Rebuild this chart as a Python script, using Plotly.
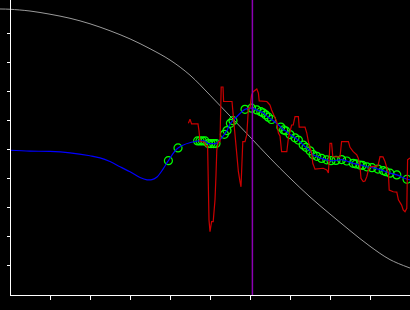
import plotly.graph_objects as go

# ---- data ----
gray_x = [-0.25, 0, 0.5, 1.0, 1.5, 2.0, 2.5, 3.0, 3.5, 4.0, 4.5, 5.0, 5.5, 6.0, 6.5, 7.0, 7.5, 8.0, 8.5, 9.0, 9.5, 10.0]
gray_y = [9.86, 9.85, 9.79, 9.68, 9.54, 9.35, 9.11, 8.83, 8.49, 8.10, 7.58, 6.89, 6.17, 5.45, 4.72, 4.03, 3.38, 2.79, 2.22, 1.68, 1.22, 0.93]

blue_left_x = [0, 0.5, 1.0, 1.5, 2.0, 2.25, 2.5, 2.75, 3.0, 3.25, 3.425, 3.55, 3.675, 3.825]
blue_left_y = [4.99, 4.96, 4.95, 4.90, 4.80, 4.73, 4.60, 4.42, 4.25, 4.05, 3.97, 3.98, 4.07, 4.34]

green_x = [3.96, 4.20, 4.69, 4.75, 4.81, 4.875, 4.96, 5.025, 5.09, 5.15,
           5.36, 5.425, 5.51, 5.575, 5.875, 6.04, 6.17, 6.27, 6.325, 6.39,
           6.46, 6.54, 6.77, 6.84, 6.89, 7.0, 7.125, 7.21, 7.33, 7.4,
           7.5, 7.575, 7.67, 7.79, 7.92, 8.025, 8.15, 8.29, 8.42, 8.58,
           8.65, 8.75, 8.81, 8.92, 9.05, 9.2, 9.33, 9.4, 9.5, 9.67, 9.925]
green_y = [4.63, 5.07, 5.31, 5.31, 5.31, 5.31, 5.22, 5.22, 5.22, 5.22,
           5.54, 5.67, 5.92, 6.01, 6.40, 6.44, 6.38, 6.32, 6.28, 6.21,
           6.13, 6.05, 5.79, 5.69, 5.66, 5.53, 5.42, 5.34, 5.17, 5.09,
           4.97, 4.84, 4.78, 4.71, 4.66, 4.63, 4.64, 4.67, 4.62, 4.54,
           4.52, 4.48, 4.47, 4.42, 4.39, 4.34, 4.29, 4.25, 4.20, 4.14, 3.99]

blue_end_x = [10.0]
blue_end_y = [3.97]

red_x = [4.46, 4.50, 4.54, 4.70, 4.725, 4.75, 4.85, 4.90, 4.94, 4.95, 4.975, 5.0, 5.04, 5.08,
         5.125, 5.15, 5.17, 5.21, 5.25, 5.28, 5.325, 5.34, 5.55, 5.58, 5.625, 5.67, 5.71, 5.75,
         5.775, 5.79, 5.82, 5.875, 5.92, 5.96, 6.0, 6.04, 6.08, 6.17, 6.21, 6.23, 6.33, 6.42,
         6.46, 6.5, 6.54, 6.58, 6.67, 6.71, 6.75, 6.79, 6.92, 6.96, 7.04, 7.08, 7.125, 7.21,
         7.23, 7.375, 7.42, 7.46, 7.54, 7.57, 7.625, 7.83, 7.92, 7.96, 8.0, 8.04, 8.07, 8.25,
         8.29, 8.46, 8.5, 8.58, 8.67, 8.71, 8.75, 8.775, 8.83, 8.875, 8.92, 8.96, 9.0, 9.2,
         9.25, 9.325, 9.375, 9.46, 9.48, 9.58, 9.67, 9.71, 9.79, 9.83, 9.875, 9.92, 9.94, 10.0]
red_y = [5.92, 6.06, 5.90, 5.90, 5.66, 5.29, 5.28, 5.14, 5.14, 3.97, 2.59, 2.18, 2.53, 2.53,
         3.28, 4.14, 5.00, 5.29, 5.29, 7.17, 7.17, 6.67, 6.67, 6.21, 5.52, 4.94, 4.25, 3.91,
         3.73, 4.25, 5.29, 5.29, 5.52, 6.44, 6.45, 6.90, 7.01, 7.10, 6.96, 6.69, 6.67, 6.67,
         6.61, 6.55, 6.38, 6.27, 5.97, 5.58, 5.48, 4.94, 4.94, 5.41, 5.86, 5.86, 6.15, 6.15,
         5.79, 5.79, 5.58, 5.29, 4.89, 4.54, 4.34, 4.37, 4.31, 4.21, 5.23, 5.23, 4.77, 4.76,
         5.29, 5.29, 5.09, 4.94, 4.83, 4.71, 4.42, 4.02, 3.91, 3.93, 4.08, 4.31, 4.42, 4.45,
         4.77, 4.76, 4.60, 4.20, 3.62, 3.56, 3.55, 3.28, 3.10, 2.93, 2.87, 2.99, 4.66, 4.72]

marker_x = 6.06
tick_vals = [1, 2, 3, 4, 5, 6, 7, 8, 9]

# blue line passes through the green points
blue_x = blue_left_x + green_x + blue_end_x
blue_y = blue_left_y + green_y + blue_end_y
order = sorted(range(len(blue_x)), key=lambda i: blue_x[i])
blue_x = [blue_x[i] for i in order]
blue_y = [blue_y[i] for i in order]

fig = go.Figure()
fig.add_trace(go.Scatter(x=gray_x, y=gray_y, mode="lines", line=dict(color="#9a9a9a", width=1, shape="spline"),
                         hoverinfo="skip"))
fig.add_trace(go.Scatter(x=green_x, y=green_y, mode="markers",
                         marker=dict(symbol="circle-open", size=8, color="#00ff00", line=dict(width=1.2, color="#00ff00"))))
fig.add_trace(go.Scatter(x=blue_x, y=blue_y, mode="lines", line=dict(color="#0000ff", width=1.2, shape="spline")))
fig.add_trace(go.Scatter(x=red_x, y=red_y, mode="lines", line=dict(color="#cc0000", width=1.2)))
fig.add_trace(go.Scatter(x=[], y=[], xaxis="x2", yaxis="y"))

fig.add_vline(x=marker_x, line=dict(color="#8c00b4", width=1.5))

fig.update_layout(
    width=410, height=310,
    margin=dict(l=0, r=0, t=0, b=15, pad=0),
    paper_bgcolor="black", plot_bgcolor="rgba(0,0,0,0)",
    showlegend=False,
    xaxis=dict(domain=[0, 1], range=[-0.25, 10], showgrid=False, zeroline=False, showline=False,
               ticks="", showticklabels=False),
    xaxis2=dict(domain=[10 / 410, 1], range=[0, 10], anchor="y", showgrid=False, zeroline=False,
                showline=True, linecolor="white", linewidth=1, ticks="outside", tickvals=tick_vals,
                ticklen=4, tickwidth=1, tickcolor="white", showticklabels=False),
    yaxis=dict(range=[0, 10.17], anchor="free", position=10 / 410, showgrid=False, zeroline=False,
               showline=True, linecolor="white", linewidth=1.2, ticks="outside", tickvals=tick_vals,
               ticklen=3, tickwidth=1, tickcolor="white", showticklabels=False),
)

fig.write_html("out.html")
